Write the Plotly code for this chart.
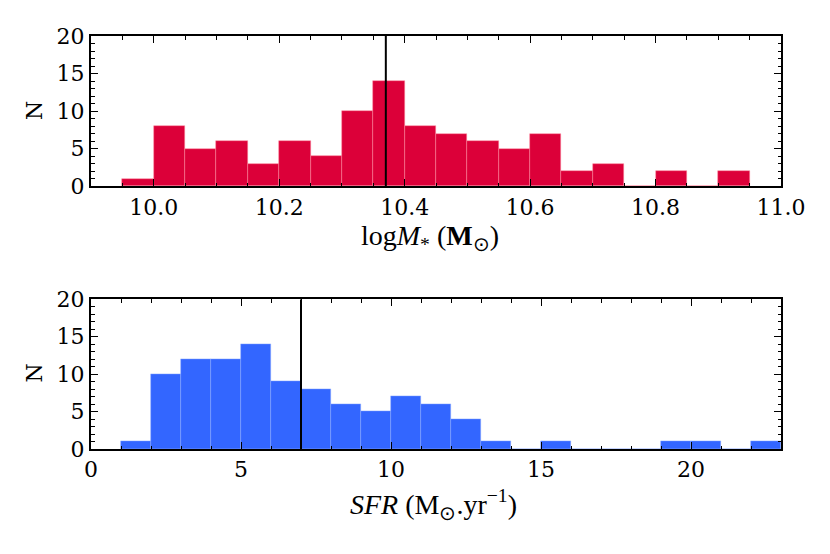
import plotly.graph_objects as go

# ---- data ----
mass_bin_left = [9.95, 10.00, 10.05, 10.10, 10.15, 10.20, 10.25, 10.30, 10.35, 10.40,
                 10.45, 10.50, 10.55, 10.60, 10.65, 10.70, 10.75, 10.80, 10.85, 10.90]
mass_counts = [1, 8, 5, 6, 3, 6, 4, 10, 14, 8, 7, 6, 5, 7, 2, 3, 0, 2, 0, 2]
mass_bin_width = 0.05
mass_median = 10.37

sfr_bin_left = [1, 2, 3, 4, 5, 6, 7, 8, 9, 10, 11, 12, 13, 14, 15, 16, 17, 18, 19, 20, 21, 22]
sfr_counts = [1, 10, 12, 12, 14, 9, 8, 6, 5, 7, 6, 4, 1, 0, 1, 0, 0, 0, 1, 1, 0, 1]
sfr_bin_width = 1
sfr_median = 7.0

mass_ticks = [10.0, 10.2, 10.4, 10.6, 10.8, 11.0]
sfr_ticks = [0, 5, 10, 15, 20]
n_ticks = [0, 5, 10, 15, 20]

RED = "#DC0039"
BLUE = "#3366FF"
TICKFONT = dict(family="DejaVu Serif", size=22, color="black")
TITLEFONT = dict(family="Liberation Serif", size=28, color="black")

W, H = 830, 554
OFF = 8  # page body offset
L, T = 91 - OFF, 36 - OFF
PW, PH = 690, 413.5
R = W - L - PW
B = H - T - PH

fig = go.Figure()
fig.add_trace(go.Bar(x=mass_bin_left, y=mass_counts, width=mass_bin_width, offset=0,
                     marker=dict(color=RED, line=dict(color="rgba(255,140,160,0.8)", width=0.6)),
                     xaxis="x", yaxis="y", showlegend=False))
fig.add_trace(go.Bar(x=sfr_bin_left, y=sfr_counts, width=sfr_bin_width, offset=0,
                     marker=dict(color=BLUE, line=dict(color="rgba(140,170,255,0.8)", width=0.6)),
                     xaxis="x2", yaxis="y2", showlegend=False))
fig.add_trace(go.Scatter(x=[mass_median, mass_median], y=[0, 20], mode="lines",
                         line=dict(color="black", width=2), xaxis="x", yaxis="y", showlegend=False))
fig.add_trace(go.Scatter(x=[sfr_median, sfr_median], y=[0, 20], mode="lines",
                         line=dict(color="black", width=2), xaxis="x2", yaxis="y2", showlegend=False))

axis_common = dict(showline=True, linecolor="black", linewidth=2, mirror="ticks",
                   ticks="inside", ticklen=7, tickwidth=1.2, tickcolor="black",
                   showgrid=False, zeroline=False, tickfont=TICKFONT)

top_dom = [1 - 150.3 / PH, 1.0]
bot_dom = [0.0, 150.0 / PH]

fig.update_layout(
    width=W, height=H,
    margin=dict(l=L, r=R, t=T, b=B),
    paper_bgcolor="white", plot_bgcolor="white",
    bargap=0,
    xaxis=dict(domain=[0, 1], range=[9.9, 11.0], tickvals=mass_ticks, tickformat=".1f",
               minor=dict(dtick=0.05, tick0=9.9, ticks="inside", ticklen=3.5, tickcolor="black", tickwidth=1),
               anchor="y", **axis_common),
    yaxis=dict(domain=top_dom, range=[0, 20], tickvals=n_ticks,
               minor=dict(dtick=1, ticks="inside", ticklen=3.5, tickcolor="black", tickwidth=1),
               anchor="x", **axis_common),
    xaxis2=dict(domain=[0, 1], range=[0, 23], tickvals=sfr_ticks,
                minor=dict(dtick=1, ticks="inside", ticklen=3.5, tickcolor="black", tickwidth=1),
                anchor="y2", **axis_common),
    yaxis2=dict(domain=bot_dom, range=[0, 20], tickvals=n_ticks,
                minor=dict(dtick=1, ticks="inside", ticklen=3.5, tickcolor="black", tickwidth=1),
                anchor="x2", **axis_common),
)


def px_to_paper(X, Y):
    # X, Y are screenshot pixel positions
    fx, fy = X - OFF, Y - OFF
    return (fx - L) / PW, (H - fy - B) / PH


anns = []
for text, X, Y in [
    ("log<i>M</i><sub>*</sub> (<b>M</b><sub>⊙</sub>)", 430, 238),
    ("<i>SFR</i> (M<sub>⊙</sub>.yr<sup>−1</sup>)", 433, 505),
]:
    x, y = px_to_paper(X, Y)
    anns.append(dict(text=text, x=x, y=y, xref="paper", yref="paper", showarrow=False,
                     font=TITLEFONT, xanchor="center", yanchor="middle"))
for ycen in [111, 374]:
    x, y = px_to_paper(35, ycen)
    anns.append(dict(text="N", x=x, y=y, xref="paper", yref="paper",
                     showarrow=False, textangle=-90, font=dict(family="DejaVu Serif", size=22, color="black"),
                     xanchor="center", yanchor="middle"))
fig.update_layout(annotations=anns)

fig.write_html("out.html")
